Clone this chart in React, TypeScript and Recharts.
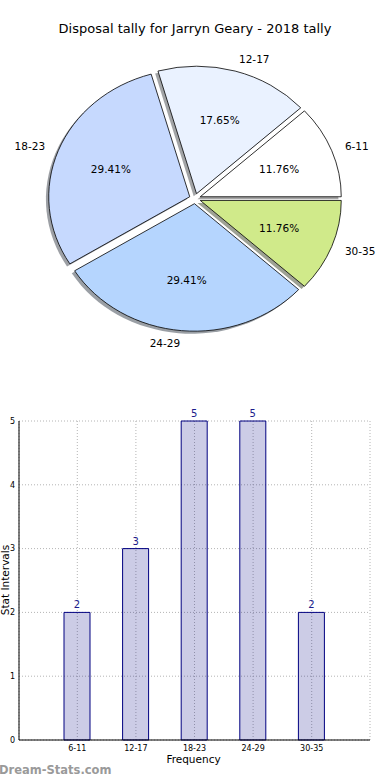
import { PieChart, Pie, BarChart, Bar, XAxis, YAxis, CartesianGrid, LabelList } from "recharts";

const intervals = ["6-11", "12-17", "18-23", "24-29", "30-35"];
const counts = [2, 3, 5, 5, 2];
const sliceColors = ["#ffffff", "#eaf2ff", "#c6d9fe", "#b5d5fe", "#d0ea8a"];
const yTicks = [0, 1, 2, 3, 4, 5];

const pieData = intervals.map((name, i) => ({ name, value: counts[i], color: sliceColors[i] }));
const barData = intervals.map((name, i) => ({ name, value: counts[i] }));

const FONT = '"DejaVu Sans", sans-serif';
const RAD = Math.PI / 180;
// matplotlib squashes the pie into an ellipse
const RX = 141;
const RY = 127.5;
const EXPLODE = 0.04;

function explodeOffset(mid: number) {
  return { dx: EXPLODE * RX * Math.cos(mid * RAD), dy: -EXPLODE * RY * Math.sin(mid * RAD) };
}

function wedgePath(cx: number, cy: number, a0: number, a1: number) {
  const { dx, dy } = explodeOffset((a0 + a1) / 2);
  const ox = cx + dx;
  const oy = cy + dy;
  const x0 = ox + RX * Math.cos(a0 * RAD);
  const y0 = oy - RY * Math.sin(a0 * RAD);
  const x1 = ox + RX * Math.cos(a1 * RAD);
  const y1 = oy - RY * Math.sin(a1 * RAD);
  const large = Math.abs(a1 - a0) > 180 ? 1 : 0;
  return `M${ox},${oy} L${x0},${y0} A${RX},${RY} 0 ${large} 0 ${x1},${y1} Z`;
}

function shade(hex: string) {
  const n = parseInt(hex.slice(1), 16);
  const r = Math.round(((n >> 16) & 255) * 0.3);
  const g = Math.round(((n >> 8) & 255) * 0.3);
  const b = Math.round((n & 255) * 0.3);
  return `rgb(${r},${g},${b})`;
}

function ShadowWedge(props: any) {
  const { cx, cy, startAngle, endAngle, payload } = props;
  const color = payload?.color ?? props.color ?? "#ffffff";
  return (
    <path
      d={wedgePath(cx, cy, startAngle, endAngle)}
      fill={shade(color)}
      fillOpacity={0.5}
      stroke="none"
      transform={`translate(${-0.02 * RX},${0.02 * RY})`}
    />
  );
}

function Wedge(props: any) {
  const { cx, cy, startAngle, endAngle, payload } = props;
  const color = payload?.color ?? props.color ?? "#ffffff";
  return (
    <path
      d={wedgePath(cx, cy, startAngle, endAngle)}
      fill={color}
      stroke="#000"
      strokeWidth={0.8}
      strokeLinejoin="round"
    />
  );
}

function WedgeLabel(props: any) {
  const { cx, cy, midAngle, percent, name } = props;
  const { dx, dy } = explodeOffset(midAngle);
  const c = Math.cos(midAngle * RAD);
  const s = Math.sin(midAngle * RAD);
  const lx = cx + dx + 1.1 * RX * c;
  const ly = cy + dy - 1.1 * RY * s;
  const px = cx + dx + 0.6 * RX * c;
  const py = cy + dy - 0.6 * RY * s;
  return (
    <g>
      <text
        x={lx}
        y={ly}
        textAnchor={c > 0 ? "start" : "end"}
        dominantBaseline="central"
        fontSize={10.5}
        fontFamily={FONT}
        fill="#000"
      >
        {name}
      </text>
      <text
        x={px}
        y={py}
        textAnchor="middle"
        dominantBaseline="central"
        fontSize={10.5}
        fontFamily={FONT}
        fill="#000"
      >
        {(percent * 100).toFixed(2)}%
      </text>
    </g>
  );
}

export default function App() {
  return (
    <div
      style={{
        position: "absolute",
        left: 0,
        top: 0,
        width: 390,
        height: 780,
        background: "#fff",
        fontFamily: FONT,
        overflow: "hidden",
      }}
    >
      <div
        style={{
          position: "absolute",
          top: 21,
          left: 0,
          width: 390,
          textAlign: "center",
          fontSize: 13,
          color: "#000",
        }}
      >
        Disposal tally for Jarryn Geary - 2018 tally
      </div>

      <div style={{ position: "absolute", top: 0, left: 0 }}>
        <PieChart width={390} height={370} margin={{ top: 0, right: 0, bottom: 0, left: 0 }}>
          <Pie
            data={pieData}
            dataKey="value"
            nameKey="name"
            cx={195}
            cy={198.6}
            outerRadius={RX}
            startAngle={0}
            endAngle={360}
            shape={ShadowWedge}
            stroke="none"
            isAnimationActive={false}
          />
          <Pie
            data={pieData}
            dataKey="value"
            nameKey="name"
            cx={195}
            cy={198.6}
            outerRadius={RX}
            startAngle={0}
            endAngle={360}
            shape={Wedge}
            label={WedgeLabel}
            labelLine={false}
            isAnimationActive={false}
          />
        </PieChart>
      </div>

      <div style={{ position: "absolute", top: 400, left: 0 }}>
        <BarChart
          width={390}
          height={380}
          data={barData}
          margin={{ top: 21, right: 20, bottom: 0, left: 0 }}
        >
          <CartesianGrid stroke="#b4b4b4" strokeDasharray="1 2" strokeWidth={1} />
          <XAxis
            dataKey="name"
            padding={{ left: 29, right: 29 }}
            height={40}
            interval={0}
            tickSize={0}
            tickMargin={5}
            tickLine={false}
            axisLine={{ stroke: "#000" }}
            tick={{ fontSize: 8, fill: "#000", fontFamily: FONT }}
          />
          <XAxis
            xAxisId="top"
            orientation="top"
            dataKey="name"
            height={0}
            tick={false}
            tickLine={false}
            axisLine={{ stroke: "#000" }}
          />
          <YAxis
            domain={[0, 5]}
            ticks={yTicks}
            width={19}
            tickSize={0}
            tickMargin={4}
            tickLine={false}
            axisLine={{ stroke: "#000" }}
            tick={{ fontSize: 8, fill: "#000", fontFamily: FONT }}
          />
          <YAxis
            yAxisId="right"
            orientation="right"
            width={0}
            tick={false}
            tickLine={false}
            axisLine={{ stroke: "#000" }}
          />
          <Bar
            dataKey="value"
            barSize={26}
            fill="#000080"
            fillOpacity={0.2}
            stroke="#000080"
            strokeWidth={1}
            isAnimationActive={false}
          >
            <LabelList
              dataKey="value"
              position="top"
              offset={4}
              fill="#1c1c8c"
              fontSize={10}
              fontFamily={FONT}
            />
          </Bar>
        </BarChart>
      </div>

      <div
        style={{
          position: "absolute",
          top: 753,
          left: 0,
          width: 390,
          textAlign: "center",
          fontSize: 10.5,
          color: "#000",
          paddingLeft: 0,
        }}
      >
        <span style={{ marginLeft: -3 }}>Frequency</span>
      </div>
      <div
        style={{
          position: "absolute",
          left: -37,
          top: 573,
          width: 84,
          textAlign: "center",
          fontSize: 10.5,
          color: "#000",
          transform: "rotate(-90deg)",
          lineHeight: "14px",
        }}
      >
        Stat Intervals
      </div>
      <div
        style={{
          position: "absolute",
          left: -1,
          top: 763,
          fontSize: 11.5,
          fontWeight: "bold",
          color: "#9a9a9a",
        }}
      >
        Dream-Stats.com
      </div>
    </div>
  );
}
